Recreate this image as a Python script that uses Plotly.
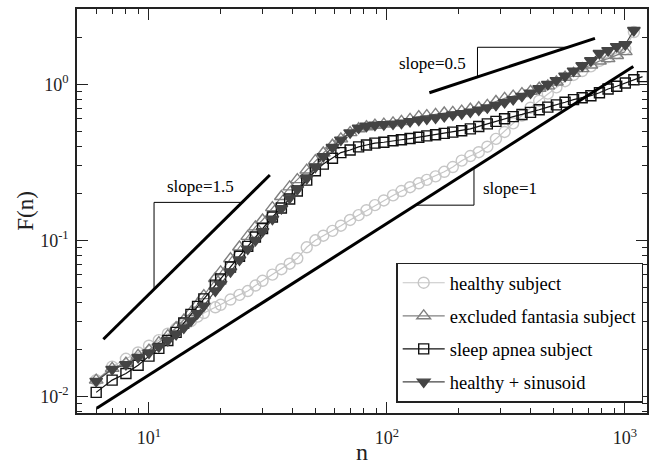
import numpy as np
import plotly.graph_objects as go

# ---------------- data ----------------
n_common = [6, 7, 8, 9, 10, 11, 12, 13, 14, 15, 16, 17, 19, 20, 22, 24, 26, 28, 30, 33,
            36, 39, 42, 46, 50, 54, 59, 64, 70, 76, 82, 89, 97, 106, 115, 125, 136, 147,
            160, 174, 189, 206, 224, 243, 264, 287, 312, 339, 369, 401, 436, 474, 515,
            560, 608, 661, 719, 781, 849, 923, 1003, 1090]

healthy = [0.0127, 0.0155, 0.0174, 0.0191, 0.0211, 0.0229, 0.0252, 0.0272, 0.0287, 0.0303,
           0.0324, 0.0342, 0.0372, 0.0386, 0.0417, 0.0447, 0.0473, 0.0513, 0.055, 0.0603,
           0.0653, 0.0708, 0.0767, 0.0902, 0.100, 0.107, 0.115, 0.124, 0.135, 0.145,
           0.156, 0.168, 0.180, 0.194, 0.207, 0.219, 0.232, 0.244, 0.257, 0.275, 0.295,
           0.324, 0.347, 0.367, 0.398, 0.447, 0.495, 0.562, 0.631, 0.708, 0.785, 0.871,
           0.955, 1.047, 1.148, 1.216, 1.303, 1.413, 1.496, 1.585, 1.679, 2.163]

n_fantasia = n_common[:-1]
fantasia = [0.0127, 0.0151, 0.0163, 0.0183, 0.0198, 0.0221, 0.0245, 0.0275, 0.0308, 0.0345,
            0.0389, 0.0442, 0.0569, 0.0628, 0.0762, 0.0906, 0.106, 0.122, 0.135, 0.162,
            0.191, 0.220, 0.245, 0.282, 0.324, 0.363, 0.407, 0.447, 0.490, 0.519, 0.535,
            0.547, 0.556, 0.566, 0.578, 0.596, 0.621, 0.630, 0.641, 0.655, 0.661, 0.673,
            0.692, 0.708, 0.733, 0.776, 0.813, 0.841, 0.871, 0.902, 0.944, 0.977, 1.035,
            1.11, 1.175, 1.26, 1.33, 1.41, 1.46, 1.53, 1.62]

n_apnea = n_common + [1185]
apnea = [0.0106, 0.0127, 0.0140, 0.0158, 0.0181, 0.0203, 0.0228, 0.0257, 0.0295, 0.0335,
         0.0377, 0.0421, 0.0516, 0.0566, 0.0675, 0.0791, 0.0914, 0.105, 0.119, 0.141,
         0.161, 0.184, 0.207, 0.243, 0.279, 0.308, 0.336, 0.365, 0.379, 0.397, 0.408,
         0.420, 0.425, 0.435, 0.441, 0.449, 0.458, 0.467, 0.475, 0.485, 0.494, 0.504,
         0.518, 0.537, 0.558, 0.579, 0.601, 0.621, 0.641, 0.661, 0.687, 0.714, 0.738,
         0.767, 0.798, 0.820, 0.845, 0.883, 0.933, 0.972, 1.02, 1.07, 1.12]

sinusoid = [0.0125, 0.0149, 0.0160, 0.0178, 0.0190, 0.0208, 0.0228, 0.0250, 0.0275, 0.0305,
            0.0340, 0.0380, 0.0475, 0.0525, 0.0630, 0.0750, 0.0880, 0.100, 0.114, 0.137,
            0.160, 0.187, 0.212, 0.250, 0.295, 0.345, 0.395, 0.440, 0.490, 0.525, 0.540,
            0.548, 0.552, 0.558, 0.565, 0.578, 0.590, 0.600, 0.610, 0.622, 0.638, 0.650,
            0.665, 0.685, 0.708, 0.735, 0.765, 0.800, 0.840, 0.880, 0.940, 1.00, 1.06,
            1.13, 1.22, 1.32, 1.42, 1.58, 1.65, 1.75, 1.80, 2.22]

series_names = ["healthy subject", "excluded fantasia subject",
                "sleep apnea subject", "healthy + sinusoid"]

# reference slope lines (endpoints as n, F) and their brackets
slope15_n, slope15_F = [6.43, 32.2], [0.0232, 0.262]
slope1_n, slope1_F = [6.03, 1084], [0.00838, 1.30]
slope05_n, slope05_F = [150.7, 748], [0.883, 1.97]
bracket15_n, bracket15_F = [10.5, 10.5, 24.8], [0.0485, 0.175, 0.175]
bracket1_n, bracket1_F = [132.4, 232, 232], [0.168, 0.168, 0.290]
bracket05_n, bracket05_F = [240, 240, 574], [1.117, 1.727, 1.727]
slope_labels = ["slope=1.5", "slope=1", "slope=0.5"]
label_n = [16.4, 329, 155]
label_F = [0.22, 0.216, 1.363]

x_tickvals = [10, 100, 1000]
x_ticktext = ["10<sup>1</sup>", "10<sup>2</sup>", "10<sup>3</sup>"]
y_tickvals = [0.01, 0.1, 1]
y_ticktext = ["10<sup>-2</sup>", "10<sup>-1</sup>", "10<sup>0</sup>"]

# ---------------- figure ----------------
FONT = "Liberation Serif"
fig = go.Figure()

styles = [
    dict(color="#c6c6c6", symbol="circle-open", size=11),
    dict(color="#808080", symbol="triangle-up-open", size=12),
    dict(color="#111111", symbol="square-open", size=10),
    dict(color="#444444", symbol="triangle-down", size=11),
]
xs = [n_common, n_fantasia, n_apnea, n_common]
ys = [healthy, fantasia, apnea, sinusoid]
for name, x, y, st in zip(series_names, xs, ys, styles):
    fig.add_trace(go.Scatter(
        x=x, y=y, name=name, mode="lines+markers",
        line=dict(color=st["color"], width=1.2),
        marker=dict(symbol=st["symbol"], size=st["size"], color=st["color"],
                    line=dict(color=st["color"], width=1.4)),
        legendgroup=name,
    ))

for nx, fy in [(slope15_n, slope15_F), (slope1_n, slope1_F), (slope05_n, slope05_F)]:
    fig.add_trace(go.Scatter(x=nx, y=fy, mode="lines", showlegend=False,
                             line=dict(color="black", width=3), hoverinfo="skip"))
for nx, fy in [(bracket15_n, bracket15_F), (bracket1_n, bracket1_F), (bracket05_n, bracket05_F)]:
    fig.add_trace(go.Scatter(x=nx, y=fy, mode="lines", showlegend=False,
                             line=dict(color="black", width=1), hoverinfo="skip"))

for txt, nx, fy in zip(slope_labels, label_n, label_F):
    fig.add_annotation(x=np.log10(nx), y=np.log10(fy), xref="x", yref="y", text=txt,
                       showarrow=False, font=dict(family=FONT, size=17, color="black"))

minor_x = [v * d for d in (1, 10, 100, 1000) for v in range(2, 10)]
minor_y = [v * d for d in (0.001, 0.01, 0.1, 1) for v in range(2, 10)]

axis_common = dict(
    type="log", showgrid=False, zeroline=False, showline=True, linecolor="#222",
    linewidth=1.5, mirror="ticks", ticks="inside", ticklen=11, tickwidth=1.3,
    tickcolor="#222", tickmode="array", automargin=False,
    tickfont=dict(family=FONT, size=18, color="#222"),
)
fig.update_xaxes(
    **axis_common, range=[0.6975, 3.0925], tickvals=x_tickvals, ticktext=x_ticktext,
    minor=dict(ticks="inside", ticklen=5, tickwidth=1.1, tickcolor="#222",
               tickmode="array", tickvals=minor_x),
    title=dict(text="n", font=dict(family=FONT, size=24, color="#222"), standoff=2),
    ticklabelstandoff=8,
)
fig.update_yaxes(
    **axis_common, range=[-2.107, 0.4827], tickvals=y_tickvals, ticktext=y_ticktext,
    minor=dict(ticks="inside", ticklen=5, tickwidth=1.1, tickcolor="#222",
               tickmode="array", tickvals=minor_y),
    title=dict(text="F(n)", font=dict(family=FONT, size=23, color="#222"), standoff=0),
    ticklabelstandoff=3,
)

fig.update_layout(
    width=649, height=465,
    margin=dict(l=77, r=2, t=9, b=52),
    paper_bgcolor="white", plot_bgcolor="white",
    font=dict(family=FONT, color="black"),
    legend=dict(x=0.56, y=0.372, xanchor="left", yanchor="top",
                bgcolor="white", bordercolor="#222", borderwidth=1.5,
                font=dict(family=FONT, size=18.5, color="black"),
                tracegroupgap=6, itemwidth=42),
    showlegend=True,
)

fig.write_html("out.html", config={"displayModeBar": False},
               post_script="document.body.style.margin='0';document.body.style.padding='0';")
